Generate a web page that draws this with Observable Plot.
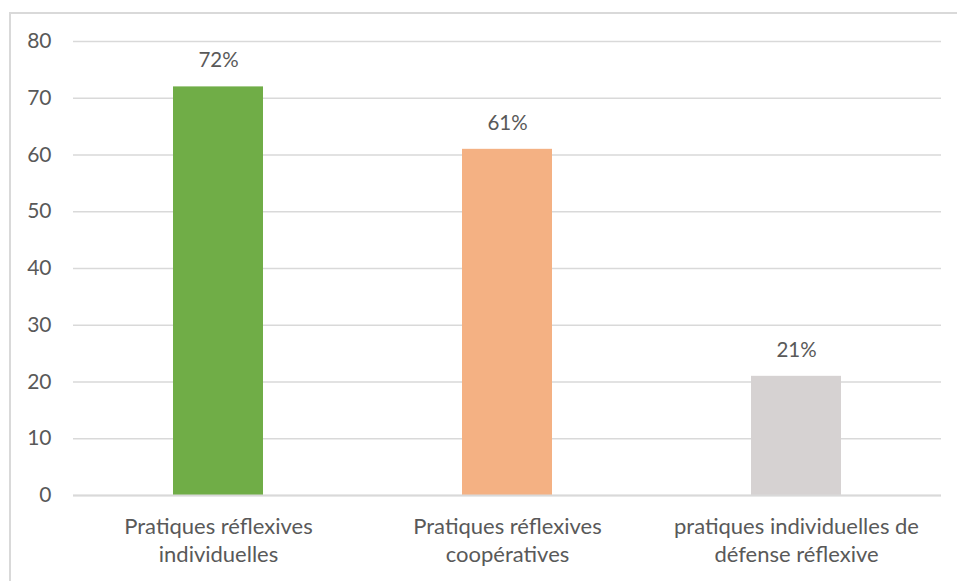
<!DOCTYPE html>
<html><head><meta charset="utf-8">
<script src="https://cdn.jsdelivr.net/npm/d3@7"></script>
<script src="https://cdn.jsdelivr.net/npm/@observablehq/plot@0.6"></script>
<style>
html,body{margin:0;padding:0;background:#fff;}
#wrap{position:relative;width:957px;height:581px;overflow:hidden;}
#frame{position:absolute;left:9px;top:12px;width:980px;height:600px;border:2px solid #d9d9d9;box-sizing:border-box;}
#chart{position:absolute;left:0;top:0;}
</style></head>
<body><div id="wrap"><div id="frame"></div><div id="chart"></div></div>
<script>
const categories = ["Pratiques réflexives individuelles", "Pratiques réflexives coopératives", "pratiques individuelles de défense réflexive"];
const tickLabels = ["Pratiques réflexives\nindividuelles", "Pratiques réflexives\ncoopératives", "pratiques individuelles de\ndéfense réflexive"];
const values = [72, 61, 21];
const valueLabels = ["72%", "61%", "21%"];
const colors = ["#70ad47", "#f4b183", "#d6d2d2"];
const yTicks = [0,10,20,30,40,50,60,70,80];

const data = categories.map((c,i)=>({cat:c, value:values[i], label:valueLabels[i], color:colors[i], tick:tickLabels[i]}));
const tickMap = new Map(data.map(d=>[d.cat,d.tick]));

const plot = Plot.plot({
  width: 957, height: 581,
  marginLeft: 73, marginRight: 16, marginTop: 41, marginBottom: 86,
  style: {fontFamily: "Lato, sans-serif", color: "#595959", background: "transparent"},
  x: {domain: categories, paddingInner: 0.69, paddingOuter: 0.345, label: null},
  y: {domain: [0, 80], label: null},
  marks: [
    Plot.gridY(yTicks, {stroke: "#d9d9d9", strokeOpacity: 1, strokeWidth: 1.5}),
    Plot.axisY(yTicks, {tickSize: 0, tickPadding: 22, fontSize: 21, fill: "#595959", label: null}),
    Plot.barY(data, {x: "cat", y: "value", fill: "color"}),
    Plot.ruleY([0], {stroke: "#d9d9d9", strokeWidth: 2}),
    Plot.text(data, {x: "cat", y: "value", text: "label", dy: -26, fontSize: 20.5, fill: "#595959"}),
    Plot.axisX({tickSize: 0, tickPadding: 18, fontSize: 22, lineHeight: 1.28, fill: "#595959", label: null, tickFormat: d => tickMap.get(d)})
  ]
});
document.getElementById("chart").appendChild(plot);
</script></body></html>
